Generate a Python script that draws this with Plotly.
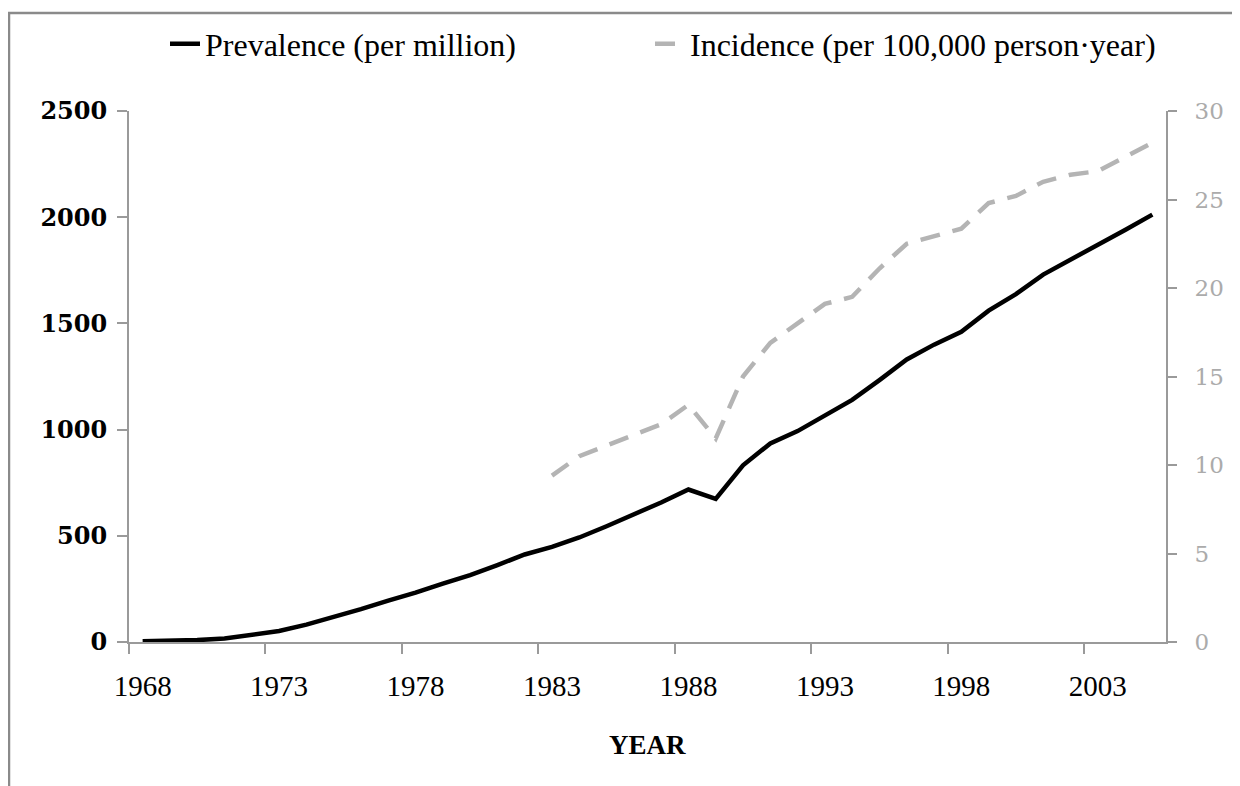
import plotly.graph_objects as go

years = list(range(1968, 2006))
prevalence = [3, 5, 9, 16, 32, 52, 82, 116, 155, 195, 232, 275, 315, 362, 412,
              448, 492, 545, 600, 657, 718, 674, 832, 935, 993, 1068, 1140, 1233,
              1330, 1400, 1460, 1560, 1638, 1730, 1800, 1865, 1940, 2012]
inc_years = list(range(1983, 2006))
incidence = [9.4, 10.5, 11.1, 11.7, 12.3, 13.4, 11.5, 15.0, 16.9, 18.0, 19.1, 19.5,
             21.1, 22.5, 22.9, 23.35, 24.8, 25.2, 26.0, 26.4, 26.6, 27.4, 28.2]
xtick_labels = ["1968", "1973", "1978", "1983", "1988", "1993", "1998", "2003"]
left_ticks = [0, 500, 1000, 1500, 2000, 2500]
right_ticks = [0, 5, 10, 15, 20, 25, 30]

W, H = 1240, 786
OFF = 8  # page body margin offset
L, R, T, B = 129 - OFF, 1166 - OFF, 111 - OFF, 642 - OFF
pw, ph = R - L, B - T


def px_x(x):
    return (x - OFF - L) / pw


def px_y(y):
    return (B - (y - OFF)) / ph


fig = go.Figure()
fig.add_trace(go.Scatter(
    x=years, y=prevalence, mode="lines", name="Prevalence (per million)",
    line=dict(color="#000000", width=4.5), yaxis="y", legend="legend"))
fig.add_trace(go.Scatter(
    x=inc_years, y=incidence, mode="lines", name="Incidence (per 100,000 person·year)",
    line=dict(color="#b4b4b4", width=4.5, dash="20px,13px"), yaxis="y2",
    legend="legend2"))

axis_gray = "#9a9a9a"
legend_font = dict(family="Liberation Serif", size=32, color="#000")
fig.update_layout(
    width=W, height=H,
    margin=dict(l=L, r=W - R, t=T, b=H - B, autoexpand=False),
    paper_bgcolor="white", plot_bgcolor="white",
    showlegend=True,
    legend=dict(orientation="h", x=px_x(165), xanchor="left",
                y=px_y(44), yanchor="middle", font=legend_font,
                bgcolor="rgba(0,0,0,0)"),
    legend2=dict(orientation="h", x=px_x(650), xanchor="left",
                 y=px_y(44), yanchor="middle", font=legend_font,
                 bgcolor="rgba(0,0,0,0)"),
    xaxis=dict(range=[1967.5, 2005.5], showgrid=False, zeroline=False,
               showline=True, linecolor=axis_gray, linewidth=2,
               tickmode="array", tickvals=[int(t) for t in xtick_labels],
               ticktext=xtick_labels, ticks="",
               ticklabelstandoff=17,
               tickfont=dict(family="Liberation Serif", size=29, color="#000"),
               minor=dict(tickmode="array",
                          tickvals=[1967.5 + 5 * k for k in range(8)],
                          ticks="outside", ticklen=10, tickcolor=axis_gray,
                          tickwidth=2, showgrid=False)),
    yaxis=dict(range=[0, 2500], showgrid=False, zeroline=False,
               showline=True, linecolor=axis_gray, linewidth=2,
               tickmode="array", tickvals=left_ticks,
               ticks="outside", ticklen=10, tickcolor=axis_gray, tickwidth=2,
               ticklabelstandoff=5,
               tickfont=dict(family="DejaVu Serif", size=24, color="#000",
                             weight="bold")),
    yaxis2=dict(range=[0, 30], overlaying="y", side="right", showgrid=False,
                zeroline=False, showline=True, linecolor=axis_gray, linewidth=2,
                tickmode="array", tickvals=right_ticks,
                ticks="outside", ticklen=9, tickcolor=axis_gray, tickwidth=2,
                ticklabelstandoff=13,
                tickfont=dict(family="DejaVu Serif", size=23, color="#ababab")),
)

fig.add_annotation(text="<b>YEAR</b>", xref="paper", yref="paper",
                   x=0.5, y=px_y(745), xanchor="center", yanchor="middle",
                   showarrow=False,
                   font=dict(family="Liberation Serif", size=27, color="#000"))

# outer chart frame (top and left edges visible)
fig.add_shape(type="rect", xref="paper", yref="paper",
              x0=px_x(9), x1=px_x(1320), y0=px_y(13), y1=px_y(860),
              line=dict(color="#8a8a8a", width=2.5), fillcolor="rgba(0,0,0,0)",
              layer="below")

fig.write_html("out.html")
